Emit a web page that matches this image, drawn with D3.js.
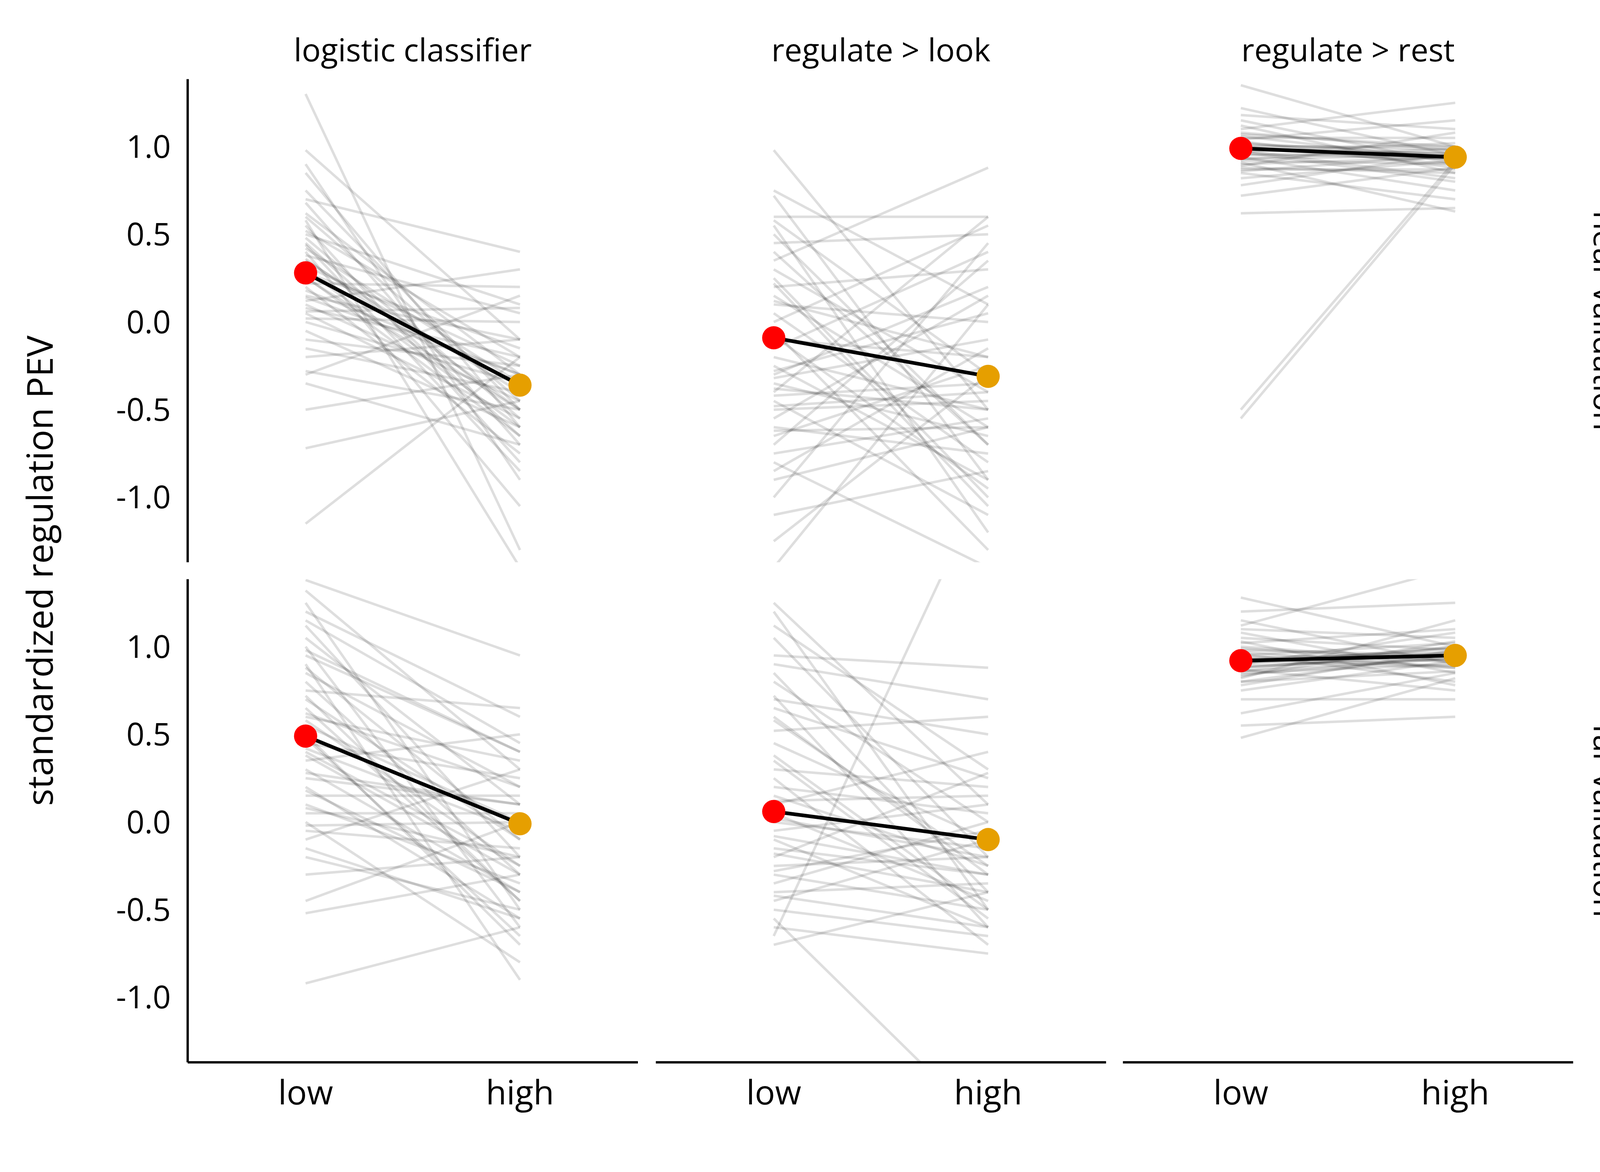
<!DOCTYPE html>
<html><head><meta charset="utf-8">
<script src="https://cdn.jsdelivr.net/npm/d3@7"></script>
<style>html,body{margin:0;padding:0;background:#fff;overflow:hidden}svg{display:block}text{font-family:"Open Sans",Lato,sans-serif;fill:#000}</style>
</head><body>
<script>
const columns = ["logistic classifier","regulate > look","regulate > rest"];
const rows = ["near validation","far validation"];
const conditions = ["low","high"];
const yTicks = [1.0,0.5,0.0,-0.5,-1.0];

const nearLogLow=[1.3,0.98,0.9,0.85,0.75,0.7,0.68,0.62,0.6,0.55,0.52,0.5,0.48,0.45,0.42,0.4,0.38,0.35,0.32,0.3,0.28,0.25,0.22,0.2,0.18,0.15,0.12,0.1,0.08,0.05,0.02,0.0,-0.05,-0.1,-0.15,-0.2,-0.28,-0.3,-0.35,-0.5,-0.72,-1.15,0.58,0.44,0.36,0.26,0.14,0.06];
const nearLogHigh=[-1.3,-0.1,-0.9,-0.6,-0.5,0.4,-0.7,-0.3,-0.45,-0.8,-0.2,0.1,-0.55,-0.65,-0.35,-1.05,0.05,-0.4,-0.25,-0.6,-0.15,-0.5,0.2,-0.75,-0.3,-0.1,0.3,-0.45,-0.2,-0.55,0.0,-0.35,-0.6,-0.25,-0.4,-0.1,-0.5,0.15,-0.7,-0.3,-0.45,-0.2,-1.4,-0.85,-0.5,-0.65,-0.3,0.08];
const nearLookLow=[0.98,0.75,0.72,0.6,0.58,0.55,0.45,0.4,0.35,0.3,0.25,0.2,0.15,0.1,0.05,0.0,-0.05,-0.1,-0.15,-0.2,-0.25,-0.3,-0.32,-0.35,-0.4,-0.42,-0.45,-0.5,-0.55,-0.6,-0.65,-0.7,-0.75,-0.8,-0.85,-0.9,-1.0,-1.1,-1.25,-1.4,0.5,0.12,-0.08,-0.28,-0.48,-0.62,0.22,-0.38];
const nearLookHigh=[-0.5,0.1,-0.9,0.6,-0.3,-1.2,0.5,-0.7,0.88,-0.4,-1.0,0.3,-0.6,0.0,-0.8,0.55,-1.3,-0.2,0.4,-0.5,-0.9,0.2,-0.1,-0.65,0.6,-0.35,-1.1,-0.45,0.15,-0.75,-0.25,0.35,-0.55,-1.4,-0.15,-0.6,0.45,-0.85,-0.3,0.1,-0.7,-0.2,-0.95,0.05,-0.4,-0.6,-1.05,-0.5];
const nearRestLow=[1.35,1.22,1.18,1.15,1.12,1.1,1.08,1.06,1.05,1.03,1.02,1.0,1.0,0.99,0.98,0.97,0.96,0.95,0.94,0.93,0.92,0.9,0.89,0.88,0.86,0.85,0.82,0.78,0.72,0.62,-0.55,-0.5,1.04,1.01,0.97,0.93,0.91,1.07,0.99,0.87];
const nearRestHigh=[1.0,0.95,1.1,0.9,0.85,1.25,0.98,0.92,1.05,0.88,0.95,1.0,0.9,0.96,0.82,1.02,0.93,0.97,0.75,0.99,0.9,0.94,1.08,0.85,0.95,0.7,0.92,0.96,0.88,0.65,0.9,0.92,1.15,0.98,0.8,0.95,0.63,1.0,0.93,0.87];
const farLogLow=[1.38,1.32,1.25,1.2,1.12,1.05,1.0,0.95,0.9,0.85,0.8,0.75,0.7,0.65,0.6,0.55,0.5,0.45,0.4,0.35,0.3,0.25,0.2,0.15,0.1,0.05,0.0,-0.05,-0.1,-0.2,-0.3,-0.45,-0.52,-0.92,0.98,0.88,0.72,0.62,0.48,0.38,0.28,0.18,0.08,-0.02,-0.15,1.15,0.58,0.42];
const farLogHigh=[0.95,0.3,-0.5,0.6,-0.2,0.1,-0.6,0.4,-0.9,0.2,-0.3,0.65,-0.1,-0.45,0.35,0.0,-0.7,0.25,-0.25,0.5,-0.4,0.1,-0.55,0.15,-0.35,0.05,-0.8,-0.15,0.3,-0.5,-0.2,0.0,-0.3,-0.6,0.4,-0.1,-0.45,0.2,-0.65,-0.3,0.1,-0.4,-0.2,0.0,-0.55,0.45,-0.25,-0.05];
const farLookLow=[1.25,1.2,1.12,1.05,0.95,0.85,0.8,0.72,0.65,0.6,0.52,0.45,0.38,0.3,0.25,0.2,0.15,0.1,0.05,0.0,-0.05,-0.1,-0.15,-0.2,-0.25,-0.3,-0.35,-0.4,-0.45,-0.5,-0.55,-0.65,-0.7,0.9,0.58,0.35,0.12,-0.08,-0.28,-0.42,0.7,0.02,-0.6,-0.18];
const farLookHigh=[0.1,-0.5,0.3,-0.2,0.88,-0.4,0.0,-0.6,0.25,-0.3,0.6,-0.1,-0.5,0.2,-0.7,0.05,-0.25,0.4,-0.45,-0.15,0.1,-0.6,-0.3,0.28,-0.2,-0.5,0.0,-0.35,-0.1,-0.65,-1.75,1.97,-0.4,0.7,-0.25,-0.55,0.15,-0.3,-0.05,-0.6,0.5,-0.2,-0.75,-0.4];
const farRestLow=[1.28,1.2,1.15,1.1,1.08,1.05,1.02,1.0,0.98,0.96,0.95,0.93,0.92,0.9,0.89,0.88,0.87,0.86,0.85,0.84,0.82,0.8,0.78,0.75,0.7,0.62,0.55,0.48,1.12,0.94,0.91,0.97,0.83,0.99,0.88,1.03,0.9,0.86,0.93,0.8];
const farRestHigh=[1.0,1.25,0.9,1.05,0.85,0.98,1.1,0.92,0.95,0.8,1.02,0.97,0.88,1.08,0.93,0.96,0.75,1.0,0.9,0.94,1.15,0.86,0.98,0.92,0.7,0.85,0.6,0.82,1.45,0.95,0.99,0.88,1.03,0.91,0.97,0.78,1.0,0.93,0.89,0.96];
const meanLow  = [[0.28,-0.09,0.99],[0.49,0.06,0.92]];
const meanHigh = [[-0.36,-0.31,0.94],[-0.01,-0.10,0.95]];

const lowData=[[nearLogLow,nearLookLow,nearRestLow],[farLogLow,farLookLow,farRestLow]];
const highData=[[nearLogHigh,nearLookHigh,nearRestHigh],[farLogHigh,farLookHigh,farRestHigh]];

const svg=d3.select("body").append("svg").attr("width",4200).attr("height",3000)
  .attr("viewBox","0 0 1556 1111").attr("preserveAspectRatio","none");
const colX=[178,622,1065], colW=427;
const rowY=[75,549], rowH=458;
const x=d3.scalePoint().domain(conditions).range([0,colW]).padding(0.55);
const y=d3.scaleLinear().domain([-1.37,1.385]).range([rowH,0]);
const fmt=v=>d3.format(".1f")(v).replace("\u2212","-");

rows.forEach((r,ri)=>{
  columns.forEach((c,ci)=>{
    const g=svg.append("g").attr("transform",`translate(${colX[ci]},${rowY[ri]})`);
    const id=`clip${ri}${ci}`;
    g.append("clipPath").attr("id",id).append("rect").attr("width",colW).attr("height",rowH);
    const p=g.append("g").attr("clip-path",`url(#${id})`);
    const lo=lowData[ri][ci], hi=highData[ri][ci];
    p.selectAll("line.ind").data(lo.map((v,i)=>[v,hi[i]])).join("line")
      .attr("x1",x("low")).attr("x2",x("high")).attr("y1",d=>y(d[0])).attr("y2",d=>y(d[1]))
      .attr("stroke","#000").attr("stroke-opacity",0.13).attr("stroke-width",2.4);
    p.append("line").attr("x1",x("low")).attr("x2",x("high"))
      .attr("y1",y(meanLow[ri][ci])).attr("y2",y(meanHigh[ri][ci]))
      .attr("stroke","#000").attr("stroke-width",3.5);
    p.append("circle").attr("cx",x("low")).attr("cy",y(meanLow[ri][ci])).attr("r",11).attr("fill","#ff0000");
    p.append("circle").attr("cx",x("high")).attr("cy",y(meanHigh[ri][ci])).attr("r",11).attr("fill","#e69f00");
    if(ci===0){
      g.append("line").attr("x1",0).attr("x2",0).attr("y1",0).attr("y2",rowH).attr("stroke","#000").attr("stroke-width",2.2);
      g.selectAll("text.yt").data(yTicks).join("text").attr("x",-16).attr("y",d=>y(d)).attr("dy","0.35em")
        .attr("text-anchor","end").attr("font-size",30).text(fmt);
    }
    if(ri===0) g.append("text").attr("x",colW/2).attr("y",-17).attr("text-anchor","middle").attr("font-size",30).text(c);
    if(ri===1){
      g.append("line").attr("x1",0).attr("x2",colW).attr("y1",rowH).attr("y2",rowH).attr("stroke","#000").attr("stroke-width",2.2);
      g.selectAll("text.xt").data(conditions).join("text").attr("x",d=>x(d)).attr("y",rowH+40)
        .attr("text-anchor","middle").attr("font-size",32).text(d=>d);
    }
    if(ci===2) g.append("text").attr("transform",`translate(${colW+30},${rowH/2}) rotate(90)`)
      .attr("text-anchor","middle").attr("dy","0.35em").attr("font-size",30).text(r);
  });
});
svg.append("text").attr("transform","translate(38,541) rotate(-90)").attr("text-anchor","middle")
  .attr("dy","0.35em").attr("font-size",34).text("standardized regulation PEV");
</script>
</body></html>
